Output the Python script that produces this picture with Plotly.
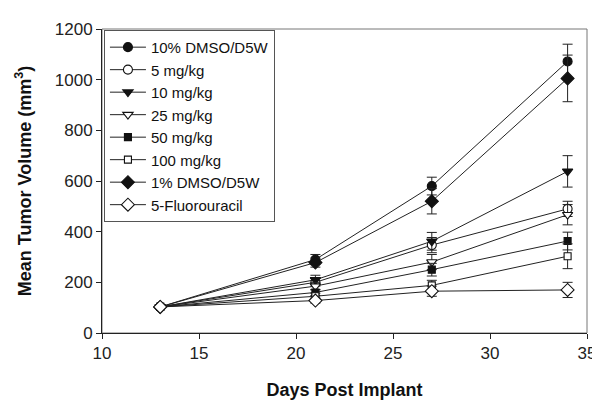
import plotly.graph_objects as go

days = [13, 21, 27, 34]
names = ["10% DMSO/D5W", "5 mg/kg", "10 mg/kg", "25 mg/kg",
         "50 mg/kg", "100 mg/kg", "1% DMSO/D5W", "5-Fluorouracil"]
v_dmso10 = [103, 290, 580, 1072]
v_5 = [103, 200, 347, 490]
v_10 = [103, 210, 362, 638]
v_25 = [103, 185, 280, 467]
v_50 = [103, 160, 250, 363]
v_100 = [103, 145, 188, 303]
v_dmso1 = [103, 278, 520, 1005]
v_5fu = [103, 128, 165, 170]

e_dmso10 = [0, 20, 35, 68]
e_5 = [0, 15, 30, 30]
e_10 = [0, 18, 35, 62]
e_25 = [0, 15, 30, 40]
e_50 = [0, 12, 25, 35]
e_100 = [0, 12, 20, 49]
e_dmso1 = [0, 18, 50, 92]
e_5fu = [0, 10, 20, 30]

values = [v_dmso10, v_5, v_10, v_25, v_50, v_100, v_dmso1, v_5fu]
errors = [e_dmso10, e_5, e_10, e_25, e_50, e_100, e_dmso1, e_5fu]
symbols = ["circle", "circle", "triangle-down", "triangle-down",
           "square", "square", "diamond", "diamond"]
fills = ["#111", "white", "#111", "white", "#111", "white", "#111", "white"]
sizes = [9, 9, 9, 9, 7, 7, 10, 10]

fig = go.Figure()
for n, v, e, s, f, sz in zip(names, values, errors, symbols, fills, sizes):
    fig.add_trace(go.Scatter(
        x=days, y=v, name=n, mode="lines+markers",
        line=dict(color="#222", width=1),
        marker=dict(symbol=s, size=sz, color=f,
                    line=dict(color="#111", width=1.1)),
        error_y=dict(type="data", array=e, visible=True,
                     color="#222", thickness=1, width=5),
    ))

font = "Liberation Sans, Arial, sans-serif"
fig.update_layout(
    width=600, height=400,
    margin=dict(l=94, r=12, t=17, b=67),
    paper_bgcolor="white", plot_bgcolor="white",
    font=dict(family=font, color="#222"),
    showlegend=True,
    legend=dict(x=0.004, y=0.997, xanchor="left", yanchor="top",
                bordercolor="#555", borderwidth=1, bgcolor="white",
                font=dict(size=15, family=font, color="#111"),
                tracegroupgap=0, itemwidth=36),
    xaxis=dict(range=[10, 35], tickvals=[10, 15, 20, 25, 30, 35],
               showline=True, linecolor="#222", linewidth=1,
               ticks="outside", ticklen=5, tickcolor="#222",
               showgrid=False, zeroline=False,
               tickfont=dict(size=17, family=font, color="#222"),
               title=dict(text="<b>Days Post Implant</b>",
                          font=dict(size=18, family=font, color="#111"),
                          standoff=20)),
    yaxis=dict(range=[0, 1200], tickvals=[0, 200, 400, 600, 800, 1000, 1200],
               showline=True, linecolor="#222", linewidth=1,
               ticks="outside", ticklen=5, tickcolor="#222",
               showgrid=False, zeroline=False,
               tickfont=dict(size=17, family=font, color="#222"),
               title=dict(text="<b>Mean Tumor Volume (mm<sup>3</sup>)</b>",
                          font=dict(size=18, family=font, color="#111"),
                          standoff=18)),
    shapes=[dict(type="rect", xref="paper", yref="paper", x0=0, x1=1, y0=0, y1=1,
                 line=dict(color="#777", width=1), layer="below")],
)

fig.write_html("out.html")
